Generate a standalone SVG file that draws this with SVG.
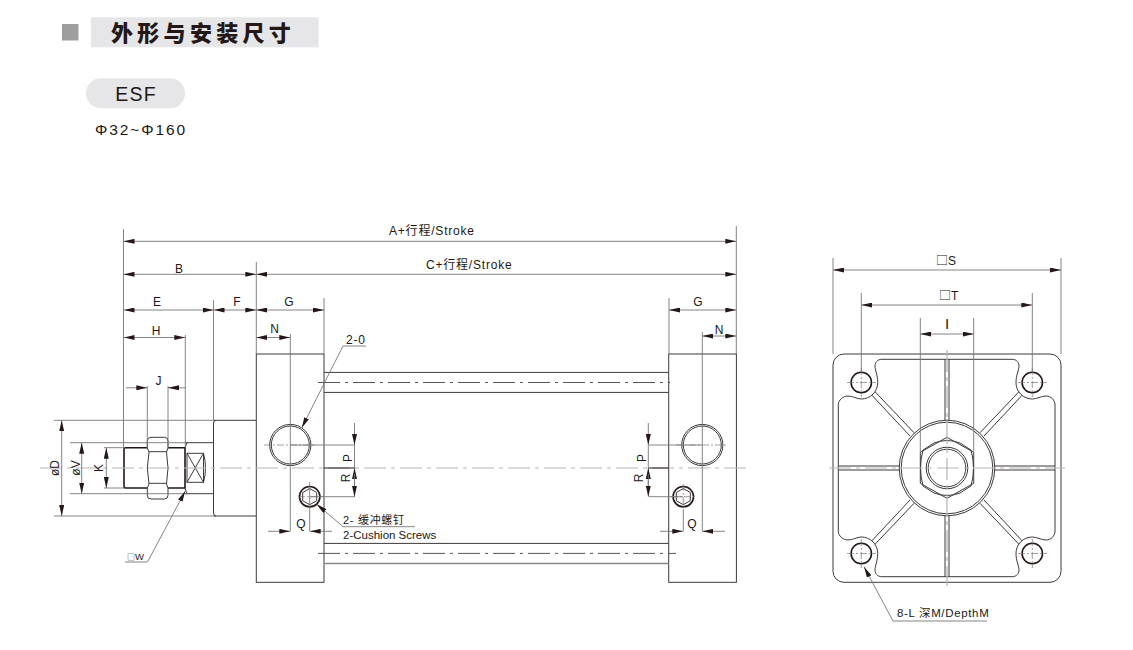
<svg xmlns="http://www.w3.org/2000/svg" width="1133" height="650" viewBox="0 0 1133 650">
<style>
text{font-family:"Liberation Sans","Noto Sans CJK SC",sans-serif;fill:#231815;font-size:12px}
.m{text-anchor:middle}
.s{letter-spacing:.8px}
.b{font-family:"Noto Sans CJK SC",sans-serif}
.o{fill:none;stroke:#3e3a39;stroke-width:1}
.h{fill:none;stroke:#231815;stroke-width:1.6}
.t{fill:none;stroke:#777;stroke-width:.9}
.c{fill:none;stroke:#444;stroke-width:.9;stroke-dasharray:22 5 3 5}
.g{fill:none;stroke:#b5b5b5;stroke-width:1.2;stroke-dasharray:22 5 4 5}
.f{fill:none;stroke:#777;stroke-width:.7;stroke-dasharray:7 2 2 2}
.a{fill:none;stroke:#777;stroke-width:.9;marker-start:url(#ar);marker-end:url(#ar)}
.e{fill:none;stroke:#777;stroke-width:.9;marker-end:url(#ar)}
</style>
<defs>
<marker id="ar" markerUnits="userSpaceOnUse" viewBox="0 0 11 5" refX="11" refY="2.5" markerWidth="11" markerHeight="5" orient="auto-start-reverse"><path d="M0 0L11 2.5L0 5Z" fill="#231815"/></marker>
</defs>
<rect width="1133" height="650" fill="#fff"/>
<g id="header">
<rect x="62" y="24" width="16.5" height="16.5" fill="#9e9e9f"/>
<rect x="91" y="17.3" width="227.7" height="30" fill="#e6e6e8"/>
<text x="111" y="41" style="font-size:22px;font-weight:900;letter-spacing:4.3px;font-family:'Noto Sans CJK SC','Liberation Sans',sans-serif">外形与安装尺寸</text>
</g>
<g id="model">
<rect x="86" y="78.3" width="99" height="30" rx="15" fill="#e6e6e8"/>
<text x="136" y="100.5" class="m" style="font-size:19.5px;letter-spacing:1.2px">ESF</text>
<text x="95" y="135" style="font-size:15.5px;letter-spacing:1.9px">Φ32~Φ160</text>
</g>
<g id="cylinder-side">
<path class="o" d="M213.5 420.3H256M213.5 516H256M216 420.3Q213.5 420.3 213.5 423V513Q213.5 516 216 516"/>
<path class="o" d="M185 442.7H213.5M185 493.7H213.5"/>
<path class="o" d="M185 447.5L187 442.7M185 488.5L187 493.7"/>
<rect x="187" y="453.3" width="16.5" height="29" class="o"/>
<path class="o" d="M187 453.3L203.5 482.3M187 482.3L203.5 453.3M203.5 453.3Q207.5 467.8 203.5 482.3"/>
<path class="h" d="M147.3 447.7H125.5Q124 447.7 124 449.2V486.6Q124 488 125.5 488H147.3M168 447.7H185V488H168"/>
<path class="o" stroke-width="1.2" d="M151 437.3H164.5Q168 437.3 168 441V448L166.5 452L168 468L166.5 484L168 488V495.3Q168 499 164.5 499H151Q147.3 499 147.3 495.3V488L149 484L147.3 468L149 452L147.3 448V441Q147.3 437.3 151 437.3ZM149 451.7H166.5M149 483.3H166.5"/>
<rect x="256.3" y="354" width="67.7" height="228.3" class="o"/>
<rect x="668.7" y="354" width="67.7" height="228.3" class="o"/>
<path class="o" d="M324 372.4H668.7M324 392.4H668.7M324 543.4H668.7"/>
<path d="M324 563.4H668.7" fill="none" stroke="#888" stroke-width="1.5"/>
<circle cx="290.3" cy="445" r="20.6" class="o"/><circle cx="290.3" cy="445" r="19" class="o"/>
<circle cx="702.3" cy="445" r="20.6" class="o"/><circle cx="702.3" cy="445" r="19" class="o"/>
<circle cx="309.7" cy="496.7" r="10.2" class="h"/><path class="o" d="M309.7 488.5l7 4v8.2l-7 4l-7-4v-8.2z"/>
<circle cx="683.3" cy="496.7" r="10.2" class="h"/><path class="o" d="M683.3 488.5l7 4v8.2l-7 4l-7-4v-8.2z"/>
<path class="c" d="M318 382.5H670M318 553.4H676"/>
<path class="g" d="M40 468H750"/>
<path class="f" d="M264 445H316M676 445H728M298 496.7H322M671 496.7H696M683.3 484V509"/>
</g>
<g id="cylinder-front">
<rect x="833" y="354" width="228" height="228.3" rx="11" class="o"/>
<path class="o" d="M882 359.3H1012C1017 359.3 1019 363 1019 366C1019 370 1016 375 1016 382.5A16.3 16.3 0 0 0 1032.3 399C1037 399 1041 396 1046 396C1051 396 1055 400 1055 405V531C1055 536 1051 540 1046 540C1041 540 1037 537 1032.3 537A16.3 16.3 0 0 0 1016 553.5C1016 561 1019 566 1019 570C1019 573 1017 576.7 1012 576.7H882C877 576.7 875 573 875 570C875 566 877.7 561 877.7 553.5A16.3 16.3 0 0 0 861.3 537C857 537 853 540 848 540C843 540 838.3 536 838.3 531V405C838.3 400 843 396 848 396C853 396 857 399 861.3 399A16.3 16.3 0 0 0 877.7 382.5C877.7 375 875 370 875 366C875 363 877 359.3 882 359.3Z"/>
<path class="o" d="M945 359.3V420M949 359.3V420M945 516V576.7M949 516V576.7M838.3 466H899.5M838.3 470H899.5M994.5 466H1055M994.5 470H1055"/>
<path class="o" d="M871.7 395L910 436M875 391.7L914 432.7M1022.3 395L984 436M1019 391.7L980 432.7M871.7 541L910 500M875 544.3L914 503.3M1022.3 541L984 500M1019 544.3L980 503.3"/>
<circle cx="947" cy="468" r="47.8" class="o"/><circle cx="947" cy="468" r="45.8" class="o"/>
<path class="o" d="M947 437.3L973.7 452.3V483.3L947 498.3L920.3 483.3V452.3Z"/>
<circle cx="947" cy="468" r="20.8" class="o"/><circle cx="947" cy="468" r="18.8" class="o"/>
<path class="o" stroke-width=".6" d="M934 443Q947 438 960 443L971 450Q976 468 971 486L960 493Q947 498 934 493L923 486Q918 468 923 450Z"/>
<g id="holes">
<circle cx="861.3" cy="382.5" r="10.2" class="h"/><circle cx="1032.3" cy="382.5" r="10.2" class="h"/><circle cx="861.3" cy="553.5" r="10.2" class="h"/><circle cx="1032.3" cy="553.5" r="10.2" class="h"/>
<path class="f" d="M847 382.5H876M861.3 368V397M1018 382.5H1047M1032.3 368V397M847 553.5H876M861.3 539V568M1018 553.5H1047M1032.3 539V568"/>
</g>
<path class="g" d="M829 468H1065M947 350V586"/>
</g>
<g id="connectors">
<path class="t" d="M123.5 229V447.7M256.3 262V354M736.3 226V354M213.5 300V420.3M324 298V354M669 298V354M185.3 335V447.7M147.3 386V447.7M168 386V447.7M290.3 334V465M702.3 332V465"/>
<path class="a" d="M123.5 241.3H736.3"/>
<path class="a" d="M123.5 274.3H256.3"/>
<path class="a" d="M256.3 274.3H736.3"/>
<path class="a" d="M123.5 310H213.5"/>
<path class="a" d="M213.5 310H256.3"/>
<path class="a" d="M256.3 310H324"/>
<path class="a" d="M669 310H736.3"/>
<path class="a" d="M123.5 337.5H185.3"/>
<path class="a" d="M256.3 337.5H290.3"/>
<path class="a" d="M702.3 336H736.3"/>
<path class="e" d="M126 387.8H147.3"/><path class="e" d="M186 387.8H168"/>
<path class="t" d="M54 420.3H213.5M54 516H213.5M70 442.7H185M70 493.7H185M104 447.7H124M104 488H124"/>
<path class="a" d="M61.7 420.3V516"/>
<path class="a" d="M81.7 442.7V493.7"/>
<path class="a" d="M106.3 447.7V488"/>
<path class="t" d="M290 445H355M310 496.7H355M649 445H702M649 496.7H683M309.7 482V531M683.3 509V531M290.3 465V531M702.3 465V531"/>
<path d="M324 468H355M648 468H669" fill="none" stroke="#231815" stroke-width="1"/>
<path class="e" d="M354.5 423V445"/><path class="t" d="M354.5 445V468"/><path class="e" d="M354.5 490V468"/><path class="e" d="M354.5 474V496.7"/>
<path class="e" d="M648.3 423V445"/><path class="t" d="M648.3 445V468"/><path class="e" d="M648.3 490V468"/><path class="e" d="M648.3 474V496.7"/>
<path class="e" d="M268 531.3H290.3"/><path class="e" d="M332 531.3H309.7"/>
<path class="e" d="M660 531.3H683.3"/><path class="e" d="M725 531.3H702.3"/>
<path class="t" d="M833 258V354M1061 258V354M861.3 293V372M1032.3 293V372M920.3 318V452M973.7 318V452"/>
<path class="a" d="M833 270H1061"/>
<path class="a" d="M861.3 305H1032.3"/>
<path class="a" d="M920.3 334H973.7"/>
<path class="e" d="M343 346L301.7 428"/><path class="t" d="M343 346H366"/>
<path class="e" d="M343 526.7L316.5 504"/><path class="t" d="M343 526.7H415"/>
<path class="e" d="M147.5 562L185.3 491"/><path class="t" d="M147.5 562H125"/>
<path class="e" d="M893 621L864 566.7"/><path class="t" d="M893 621H987"/>
</g>
<g id="labels">
<text x="389" y="235" class="s">A+行程/Stroke</text>
<text x="426" y="269" class="s">C+行程/Stroke</text>
<text x="179" y="273" class="m">B</text>
<text x="157" y="306" class="m">E</text>
<text x="237" y="306" class="m">F</text>
<text x="289" y="306" class="m">G</text>
<text x="698" y="306" class="m">G</text>
<text x="156" y="335" class="m">H</text>
<text x="274.5" y="333" class="m">N</text>
<text x="719" y="334" class="m">N</text>
<text x="158.5" y="385" class="m">J</text>
<text x="346" y="344" class="s">2-0</text>
<text x="343" y="524" style="font-size:11px;letter-spacing:.7px">2- 缓冲螺钉</text>
<text x="343" y="539" style="font-size:11.5px">2-Cushion Screws</text>
<text x="127" y="560" style="font-size:9.5px"><tspan class="b" style="font-size:8px">□</tspan>W</text>
<text x="301" y="528" class="m">Q</text>
<text x="692" y="528" class="m">Q</text>
<text transform="translate(59,468) rotate(-90)" class="m">øD</text>
<text transform="translate(80,468) rotate(-90)" class="m">øV</text>
<text transform="translate(103,468) rotate(-90)" class="m">K</text>
<text transform="translate(352,458) rotate(-90)" class="m">P</text>
<text transform="translate(349.5,478) rotate(-90)" class="m">R</text>
<text transform="translate(645.5,458) rotate(-90)" class="m">P</text>
<text transform="translate(643,478) rotate(-90)" class="m">R</text>
<text x="936" y="265"><tspan class="b">□</tspan>S</text>
<text x="939" y="300"><tspan class="b">□</tspan>T</text>
<text x="947" y="329" class="m" style="font-size:15px">I</text>
<text x="897" y="617" style="font-size:11.5px;letter-spacing:.65px">8-L 深M/DepthM</text>
</g>
</svg>
